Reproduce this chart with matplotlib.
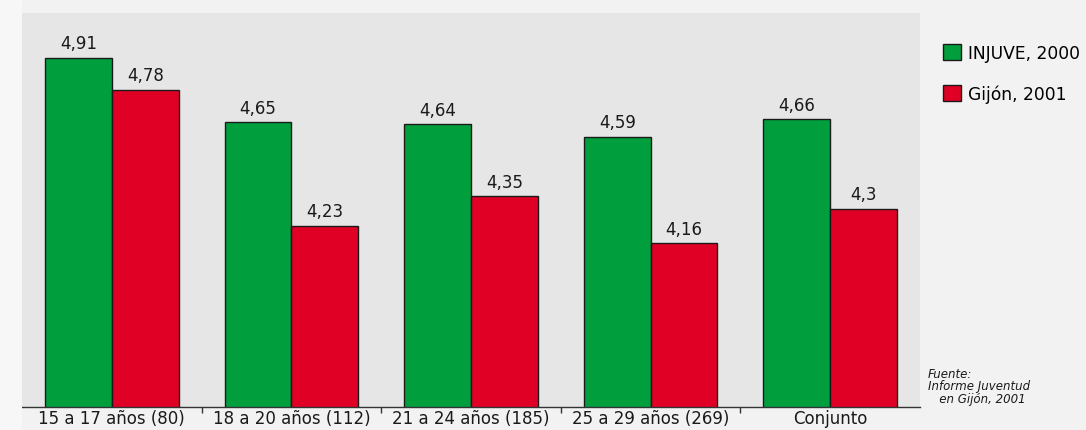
import matplotlib
matplotlib.use("Agg")
import matplotlib.pyplot as plt
import numpy as np
from matplotlib.patches import Patch, Rectangle

categories = ["15 a 17 años (80)", "18 a 20 años (112)", "21 a 24 años (185)",
              "25 a 29 años (269)", "Conjunto"]
injuve_2000 = [4.91, 4.65, 4.64, 4.59, 4.66]
gijon_2001 = [4.78, 4.23, 4.35, 4.16, 4.30]
labels_injuve = ["4,91", "4,65", "4,64", "4,59", "4,66"]
labels_gijon = ["4,78", "4,23", "4,35", "4,16", "4,3"]
series_names = ["INJUVE, 2000", "Gijón, 2001"]

GREEN = "#009e3d"
RED = "#e00025"

plt.rcParams['font.family'] = ['DejaVu Sans']

fig = plt.figure(figsize=(10.86, 4.31), dpi=100, facecolor="#f2f2f2")
fig.patches.append(Rectangle((0, 0), 22/1086, 1, transform=fig.transFigure,
                             facecolor="#f7f7f7", edgecolor="none", zorder=0))
ax = fig.add_axes([22/1086, 1-407.7/431, (920-22)/1086, (407.7-14)/431])
ax.set_facecolor("#e6e6e6")

x = np.arange(len(categories))
w = 0.372
ax.bar(x - w/2, injuve_2000, w, color=GREEN, edgecolor="#1a1a1a", linewidth=1.0, zorder=2)
ax.bar(x + w/2, gijon_2001, w, color=RED, edgecolor="#1a1a1a", linewidth=1.0, zorder=2)

for i in range(len(categories)):
    ax.text(x[i] - w/2, injuve_2000[i] + 0.022, labels_injuve[i], ha="center", va="bottom",
            fontsize=12, color="#1a1a1a")
    ax.text(x[i] + w/2, gijon_2001[i] + 0.022, labels_gijon[i], ha="center", va="bottom",
            fontsize=12, color="#1a1a1a")

ax.set_xlim(-0.5, len(categories) - 0.5)
ax.set_ylim(3.5, 5.09)
ax.set_yticks([])
ax.set_xticks(x)
ax.set_xticklabels(categories, fontsize=12, color="#1a1a1a")
ax.tick_params(axis="x", length=0, pad=2)
ax.set_xticks(np.arange(len(categories) - 1) + 0.5, minor=True)
ax.tick_params(axis="x", which="minor", length=4, width=1, color="#333333", direction="out")
for s in ["left", "right", "top"]:
    ax.spines[s].set_visible(False)
ax.spines["bottom"].set_color("#333333")
ax.spines["bottom"].set_linewidth(1.0)

handles = [Patch(facecolor=GREEN, edgecolor="#1a1a1a", label=series_names[0]),
           Patch(facecolor=RED, edgecolor="#1a1a1a", label=series_names[1])]
fig.legend(handles=handles, loc="upper left", bbox_to_anchor=(943/1086, 1-45/431),
           frameon=False, fontsize=12.3, handlelength=1.08, handleheight=1.08,
           handletextpad=0.4, labelspacing=1.3, borderaxespad=0, borderpad=0)

fig.text(928/1086, 1-368/431, "Fuente:\nInforme Juventud\n   en Gijón, 2001",
         fontsize=8.5, style="italic", color="#1a1a1a", ha="left", va="top",
         linespacing=0.95)

fig.savefig("out.png", dpi=100, facecolor=fig.get_facecolor())
